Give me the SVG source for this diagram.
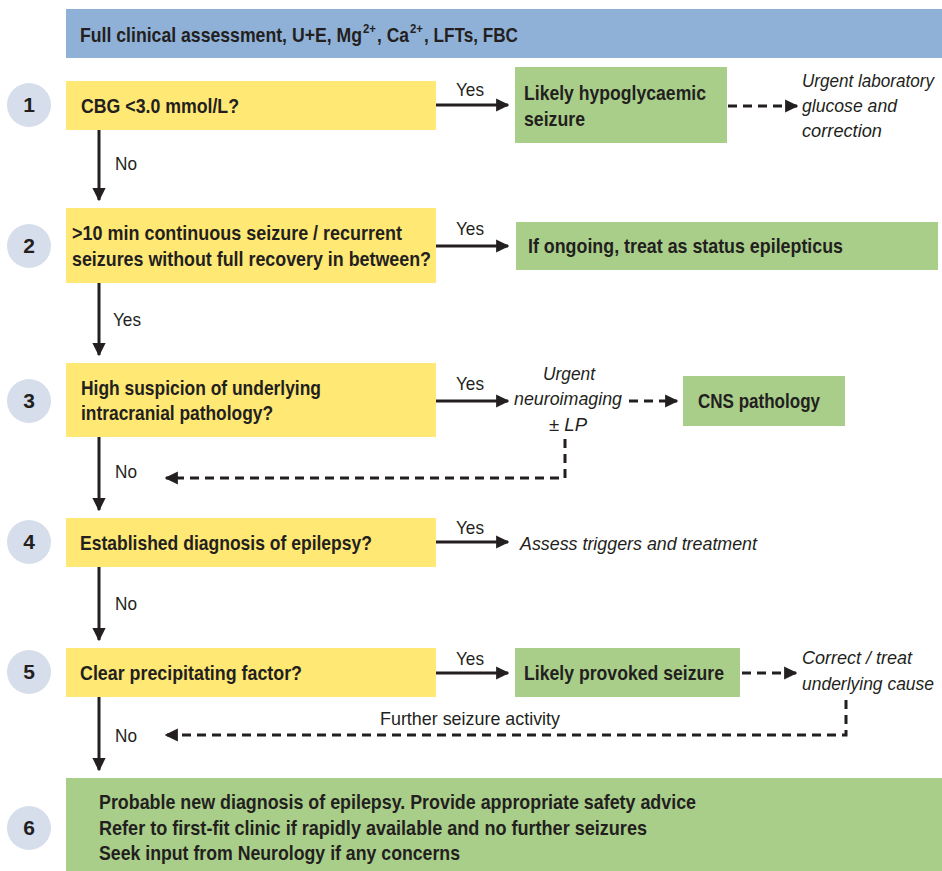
<svg xmlns="http://www.w3.org/2000/svg" width="942" height="871" viewBox="0 0 942 871">
<defs>
<style>
text{font-family:"Liberation Sans",Arial,sans-serif;fill:#231f20}
.b{font-weight:bold;font-size:21px}
.sup{font-weight:bold;font-size:13px}
.n{font-size:19px}
.i{font-style:italic;font-size:19px}
.is{font-style:italic;font-size:18px}
.num{font-weight:bold;font-size:21px;text-anchor:middle}
.yel{fill:#FFE873}
.grn{fill:#A9CE89}
.blu{fill:#90B1D7}
.circ{fill:#D6DEEB}
.ln{stroke:#231f20;stroke-width:3;fill:none}
.dl{stroke:#231f20;stroke-width:3;fill:none;stroke-dasharray:9 6}
</style>
<marker id="ah" viewBox="0 0 10 10" refX="9" refY="5" markerWidth="4.4" markerHeight="4.4" orient="auto" markerUnits="strokeWidth">
<path d="M0,0 L10,5 L0,10 Z" fill="#231f20"/>
</marker>
</defs>

<g id="header">
<rect class="blu" x="66" y="9" width="876" height="49"/>
<text class="b" x="80" y="42" textLength="282" lengthAdjust="spacingAndGlyphs">Full clinical assessment, U+E, Mg</text>
<text class="sup" x="363" y="33" textLength="13" lengthAdjust="spacingAndGlyphs">2+</text>
<text class="b" x="377" y="42" textLength="32" lengthAdjust="spacingAndGlyphs">, Ca</text>
<text class="sup" x="410" y="33" textLength="13" lengthAdjust="spacingAndGlyphs">2+</text>
<text class="b" x="424" y="42" textLength="94" lengthAdjust="spacingAndGlyphs">, LFTs, FBC</text>
</g>

<g id="c1"><circle class="circ" cx="29" cy="105" r="22"/><text class="num" x="29" y="112">1</text></g>
<g id="c2"><circle class="circ" cx="29" cy="246" r="22"/><text class="num" x="29" y="253">2</text></g>
<g id="c3"><circle class="circ" cx="29" cy="401" r="22"/><text class="num" x="29" y="408">3</text></g>
<g id="c4"><circle class="circ" cx="29" cy="542" r="22"/><text class="num" x="29" y="549">4</text></g>
<g id="c5"><circle class="circ" cx="29" cy="672" r="22"/><text class="num" x="29" y="679">5</text></g>
<g id="c6"><circle class="circ" cx="29" cy="828" r="22"/><text class="num" x="29" y="835">6</text></g>

<g id="q1"><rect class="yel" x="66" y="81" width="370" height="49"/><text class="b" x="81" y="113" textLength="158" lengthAdjust="spacingAndGlyphs">CBG &lt;3.0 mmol/L?</text></g>
<g id="r1"><rect class="grn" x="515" y="67" width="212" height="76"/><text class="b" x="524" y="100" textLength="182" lengthAdjust="spacingAndGlyphs">Likely hypoglycaemic</text><text class="b" x="524" y="126" textLength="61" lengthAdjust="spacingAndGlyphs">seizure</text></g>
<g id="o1"><text class="is" x="802" y="87" textLength="132" lengthAdjust="spacingAndGlyphs">Urgent laboratory</text><text class="i" x="802" y="112" textLength="95" lengthAdjust="spacingAndGlyphs">glucose and</text><text class="i" x="802" y="137" textLength="80" lengthAdjust="spacingAndGlyphs">correction</text></g>

<g id="q2"><rect class="yel" x="66" y="208" width="370" height="75"/><text class="b" x="72" y="240" textLength="330" lengthAdjust="spacingAndGlyphs">&gt;10 min continuous seizure / recurrent</text><text class="b" x="72" y="266" textLength="359" lengthAdjust="spacingAndGlyphs">seizures without full recovery in between?</text></g>
<g id="r2"><rect class="grn" x="516" y="222" width="422" height="48"/><text class="b" x="528" y="253" textLength="315" lengthAdjust="spacingAndGlyphs">If ongoing, treat as status epilepticus</text></g>

<g id="q3"><rect class="yel" x="66" y="363" width="370" height="74"/><text class="b" x="81" y="395" textLength="240" lengthAdjust="spacingAndGlyphs">High suspicion of underlying</text><text class="b" x="81" y="420" textLength="192" lengthAdjust="spacingAndGlyphs">intracranial pathology?</text></g>
<g id="o3"><text class="i" x="543" y="380" textLength="52" lengthAdjust="spacingAndGlyphs">Urgent</text><text class="i" x="514" y="405" textLength="108" lengthAdjust="spacingAndGlyphs">neuroimaging</text><text class="i" x="549" y="431" textLength="38" lengthAdjust="spacingAndGlyphs">± LP</text></g>
<g id="r3"><rect class="grn" x="683" y="376" width="162" height="50"/><text class="b" x="698" y="408" textLength="122" lengthAdjust="spacingAndGlyphs">CNS pathology</text></g>

<g id="q4"><rect class="yel" x="66" y="518" width="370" height="49"/><text class="b" x="80" y="550" textLength="292" lengthAdjust="spacingAndGlyphs">Established diagnosis of epilepsy?</text></g>
<g id="o4"><text class="i" x="520" y="550" textLength="237" lengthAdjust="spacingAndGlyphs">Assess triggers and treatment</text></g>

<g id="q5"><rect class="yel" x="66" y="648" width="370" height="49"/><text class="b" x="80" y="680" textLength="222" lengthAdjust="spacingAndGlyphs">Clear precipitating factor?</text></g>
<g id="r5"><rect class="grn" x="515" y="648" width="225" height="49"/><text class="b" x="524" y="680" textLength="200" lengthAdjust="spacingAndGlyphs">Likely provoked seizure</text></g>
<g id="o5"><text class="i" x="802" y="664" textLength="110" lengthAdjust="spacingAndGlyphs">Correct / treat</text><text class="is" x="802" y="690" textLength="132" lengthAdjust="spacingAndGlyphs">underlying cause</text></g>

<g id="r6"><rect class="grn" x="66" y="778" width="876" height="93"/><text class="b" x="99" y="809" textLength="597" lengthAdjust="spacingAndGlyphs">Probable new diagnosis of epilepsy. Provide appropriate safety advice</text><text class="b" x="99" y="835" textLength="548" lengthAdjust="spacingAndGlyphs">Refer to first-fit clinic if rapidly available and no further seizures</text><text class="b" x="99" y="860" textLength="361" lengthAdjust="spacingAndGlyphs">Seek input from Neurology if any concerns</text></g>

<g id="connectors">
<line class="ln" x1="436" y1="105" x2="508" y2="105" marker-end="url(#ah)"/>
<text class="n" x="456" y="96" textLength="28" lengthAdjust="spacingAndGlyphs">Yes</text>
<line class="dl" x1="728" y1="106" x2="797" y2="106" marker-end="url(#ah)"/>
<line class="ln" x1="99" y1="130" x2="99" y2="200" marker-end="url(#ah)"/>
<text class="n" x="115" y="170" textLength="22" lengthAdjust="spacingAndGlyphs">No</text>

<line class="ln" x1="436" y1="246" x2="508" y2="246" marker-end="url(#ah)"/>
<text class="n" x="456" y="235" textLength="28" lengthAdjust="spacingAndGlyphs">Yes</text>
<line class="ln" x1="99" y1="283" x2="99" y2="355" marker-end="url(#ah)"/>
<text class="n" x="113" y="326" textLength="28" lengthAdjust="spacingAndGlyphs">Yes</text>

<line class="ln" x1="436" y1="401" x2="508" y2="401" marker-end="url(#ah)"/>
<text class="n" x="456" y="390" textLength="28" lengthAdjust="spacingAndGlyphs">Yes</text>
<line class="dl" x1="629" y1="401" x2="677" y2="401" marker-end="url(#ah)"/>
<polyline class="dl" points="565,439 565,478 166,478" marker-end="url(#ah)"/>
<line class="ln" x1="99" y1="437" x2="99" y2="510" marker-end="url(#ah)"/>
<text class="n" x="115" y="478" textLength="22" lengthAdjust="spacingAndGlyphs">No</text>

<line class="ln" x1="436" y1="542" x2="508" y2="542" marker-end="url(#ah)"/>
<text class="n" x="456" y="534" textLength="28" lengthAdjust="spacingAndGlyphs">Yes</text>
<line class="ln" x1="99" y1="567" x2="99" y2="640" marker-end="url(#ah)"/>
<text class="n" x="115" y="610" textLength="22" lengthAdjust="spacingAndGlyphs">No</text>

<line class="ln" x1="436" y1="673" x2="508" y2="673" marker-end="url(#ah)"/>
<text class="n" x="456" y="665" textLength="28" lengthAdjust="spacingAndGlyphs">Yes</text>
<line class="dl" x1="742" y1="673" x2="796" y2="673" marker-end="url(#ah)"/>
<polyline class="dl" points="846,700 846,735 166,735" marker-end="url(#ah)"/>
<text class="n" x="380" y="725" textLength="180" lengthAdjust="spacingAndGlyphs">Further seizure activity</text>
<line class="ln" x1="99" y1="697" x2="99" y2="770" marker-end="url(#ah)"/>
<text class="n" x="115" y="742" textLength="22" lengthAdjust="spacingAndGlyphs">No</text>
</g>
</svg>
